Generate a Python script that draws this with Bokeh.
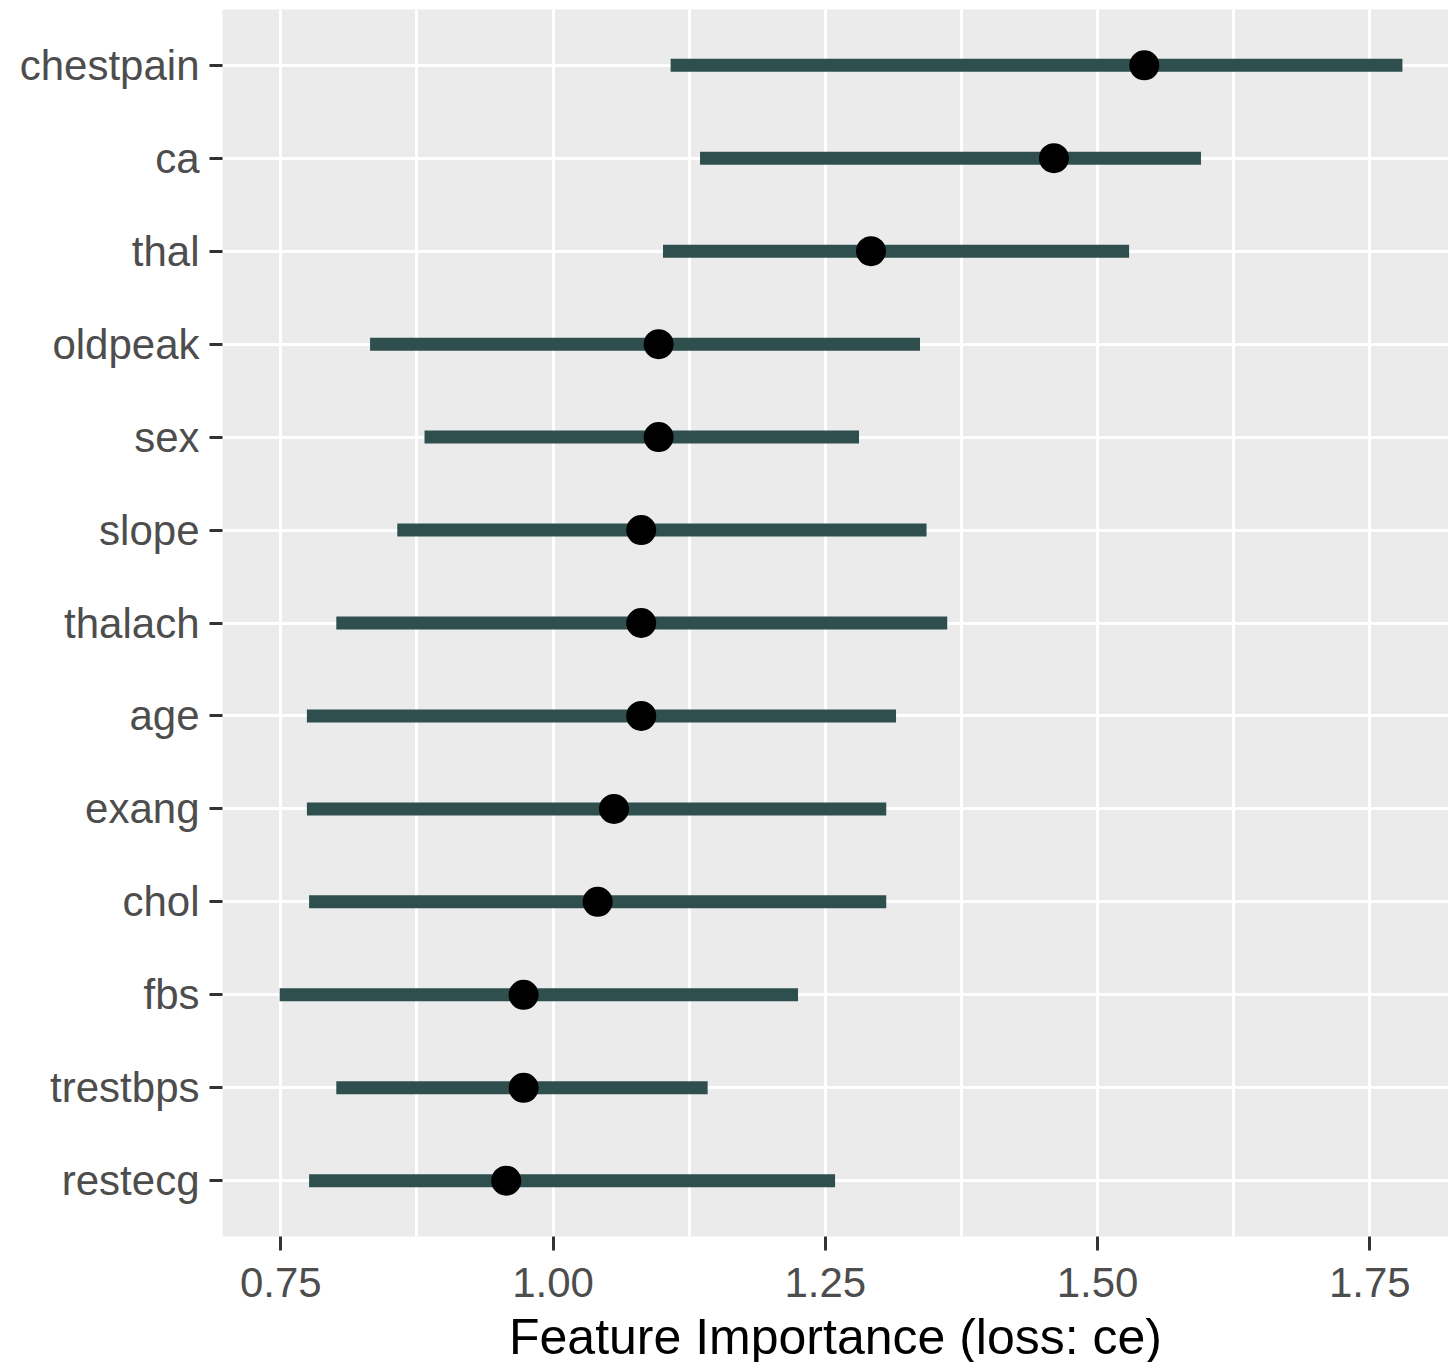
from bokeh.plotting import figure
from bokeh.models import FactorRange, Range1d, FixedTicker, ColumnDataSource
from bokeh.embed import file_html
from bokeh.resources import INLINE

# ---- data ----
features = ["chestpain", "ca", "thal", "oldpeak", "sex", "slope", "thalach",
            "age", "exang", "chol", "fbs", "trestbps", "restecg"]
importance = [1.543, 1.460, 1.292, 1.097, 1.097, 1.081, 1.081,
              1.081, 1.056, 1.041, 0.973, 0.973, 0.957]
lower = [1.108, 1.135, 1.101, 0.832, 0.882, 0.857, 0.801,
         0.774, 0.774, 0.776, 0.749, 0.801, 0.776]
upper = [1.780, 1.595, 1.529, 1.337, 1.281, 1.343, 1.362,
         1.315, 1.306, 1.306, 1.225, 1.142, 1.259]
x_ticks = [0.75, 1.00, 1.25, 1.50, 1.75]
x_tick_labels = ["0.75", "1.00", "1.25", "1.50", "1.75"]
x_minor = [0.625, 0.875, 1.125, 1.375, 1.625, 1.875]
x_title = "Feature Importance (loss: ce)"

src = ColumnDataSource(dict(feature=features, importance=importance,
                            lower=lower, upper=upper))

factors = list(reversed(features))
p = figure(
    y_range=FactorRange(factors=factors, range_padding=0.2 / 13,
                        range_padding_units="percent"),
    x_range=Range1d(0.6965, 1.8223),
    frame_width=1226, frame_height=1227,
    output_backend="svg", toolbar_location=None,
)
p.min_border_left = 222
p.min_border_right = 0
p.min_border_top = 9
p.min_border_bottom = 0

p.background_fill_color = "#EBEBEB"
p.border_fill_color = "white"
p.outline_line_color = None

# grid
p.xaxis.ticker = FixedTicker(ticks=x_ticks, minor_ticks=x_minor)
p.xgrid.grid_line_color = "white"
p.xgrid.grid_line_width = 3
p.xgrid.minor_grid_line_color = "white"
p.xgrid.minor_grid_line_width = 3
p.ygrid.grid_line_color = "white"
p.ygrid.grid_line_width = 3

# marks
p.segment(x0="lower", y0="feature", x1="upper", y1="feature", source=src,
          line_color="#2F4F4F", line_width=13, line_cap="butt")
p.scatter(x="importance", y="feature", source=src, size=30,
          fill_color="black", line_color="black", line_width=0)

# axes
for ax in (p.xaxis[0], p.yaxis[0]):
    ax.axis_line_color = None
    ax.major_tick_line_color = "#333333"
    ax.major_tick_line_width = 3
    ax.major_tick_in = 0
    ax.minor_tick_line_color = None
    ax.major_label_text_font = "Liberation Sans"
    ax.major_label_text_font_size = "42px"
    ax.major_label_text_color = "#4D4D4D"

p.yaxis.major_tick_out = 13
p.yaxis.major_label_standoff = 10
p.xaxis.major_tick_out = 14
p.xaxis.major_label_standoff = 17
p.xaxis.major_label_overrides = {t: l for t, l in zip(x_ticks, x_tick_labels)}
p.xaxis.axis_label = x_title
p.xaxis.axis_label_text_font = "Liberation Sans"
p.xaxis.axis_label_text_font_size = "50px"
p.xaxis.axis_label_text_font_style = "normal"
p.xaxis.axis_label_text_color = "black"
p.xaxis.axis_label_standoff = 9

open("out.html", "w").write(file_html(p, INLINE))
